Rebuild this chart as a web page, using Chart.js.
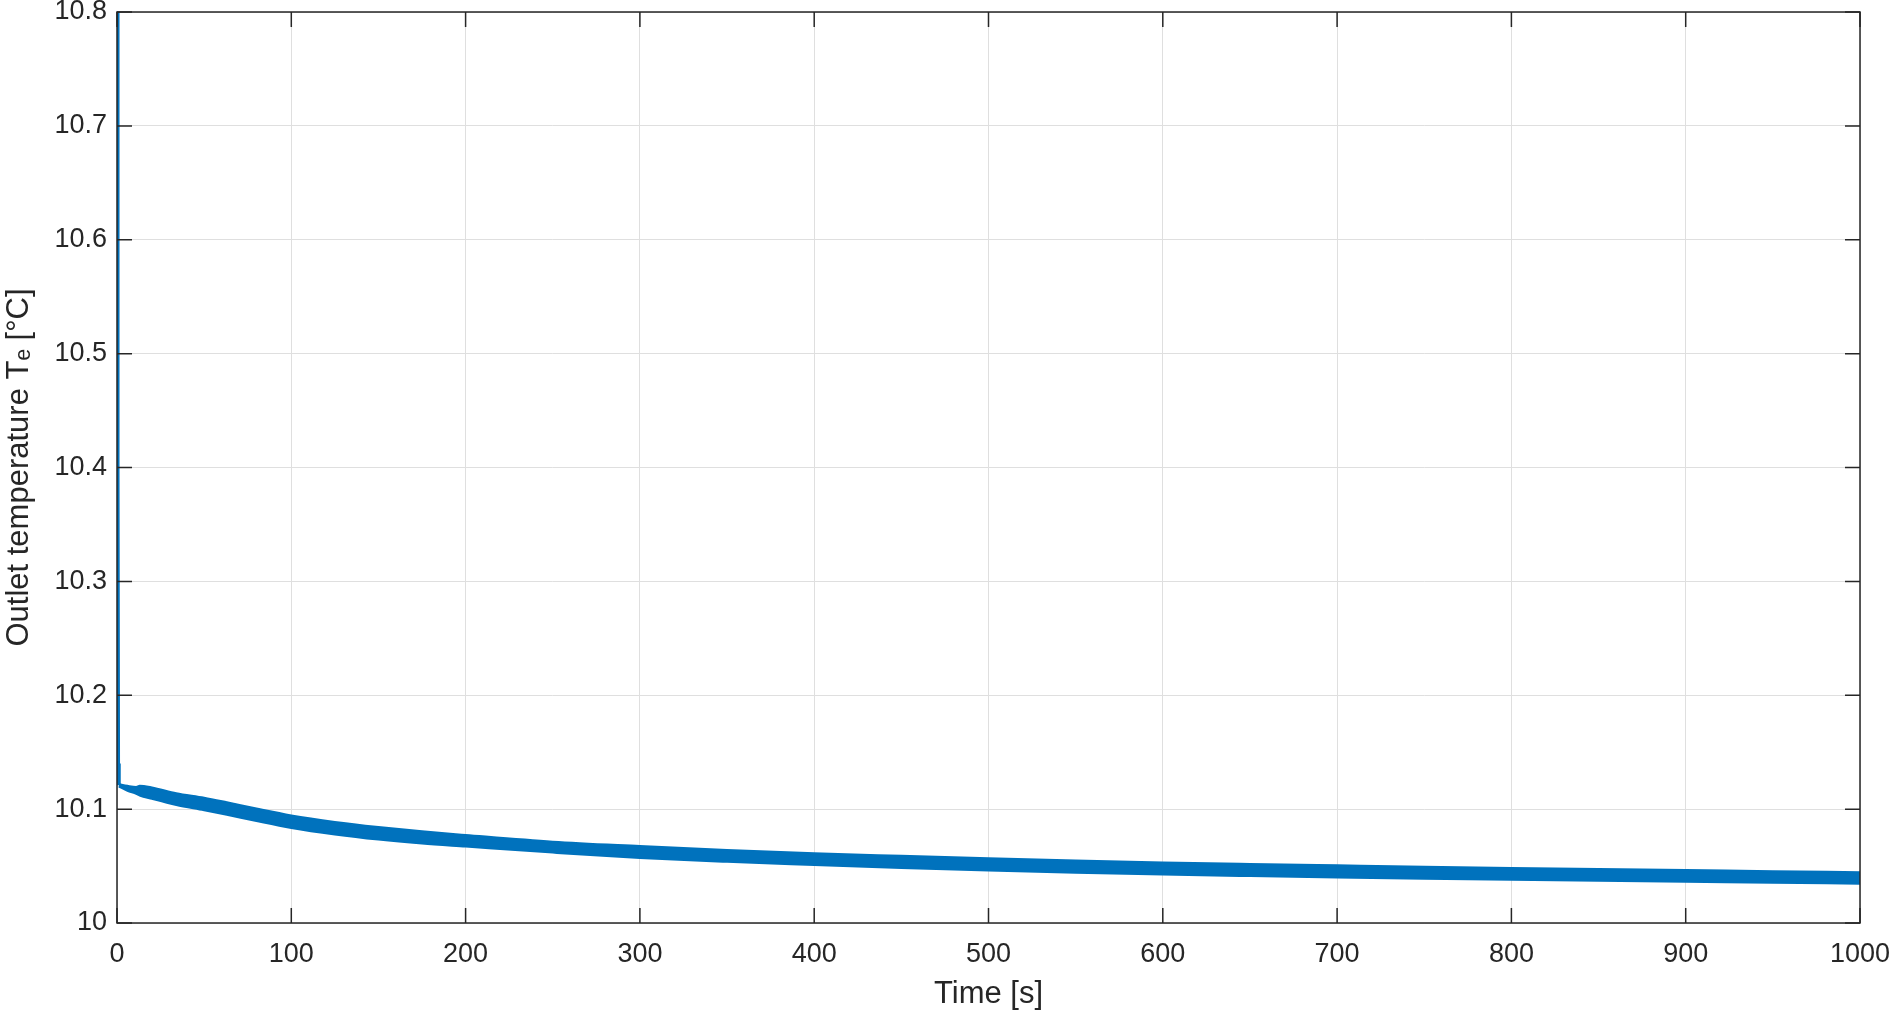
<!DOCTYPE html>
<html>
<head>
<meta charset="utf-8">
<script src="https://cdn.jsdelivr.net/npm/chart.js@4.4.0/dist/chart.umd.min.js"></script>
<style>
  html, body { margin: 0; padding: 0; background: #fff; }
  #wrap { width: 1900px; height: 1019px; }
</style>
</head>
<body>
<div id="wrap"><canvas id="outletChart"></canvas></div>
<script>
// steep drop right after start (first point is above the axis, gets clipped)
const dropTime = [0, 0.3, 0.6, 1];
const dropTemp = [11.0, 10.4, 10.14, 10.121];

// upper / lower envelope of the oscillating band
const bandTime = [1, 6, 11, 13, 20, 34, 50, 63, 80, 100, 125, 150, 175, 200, 250, 300, 350, 400, 450, 500, 550, 600, 650, 700, 750, 800, 850, 900, 950, 1000];
const upperTemp = [10.122, 10.1205, 10.1195, 10.1205, 10.119, 10.114, 10.110, 10.106, 10.1005, 10.0945, 10.0888, 10.0843, 10.0805, 10.0773, 10.0714, 10.0676, 10.0642, 10.0613, 10.059, 10.0568, 10.0548, 10.0532, 10.0519, 10.0507, 10.0495, 10.0484, 10.0474, 10.0465, 10.0455, 10.0446];
const lowerTemp = [10.120, 10.116, 10.1135, 10.112, 10.109, 10.1036, 10.099, 10.095, 10.0895, 10.0835, 10.0778, 10.0733, 10.0698, 10.0671, 10.0618, 10.0571, 10.0537, 10.0509, 10.0482, 10.0460, 10.0441, 10.0425, 10.0412, 10.0400, 10.0389, 10.0379, 10.0370, 10.0362, 10.0353, 10.0345];

const xTicks = [0, 100, 200, 300, 400, 500, 600, 700, 800, 900, 1000];
const yTicks = [10, 10.1, 10.2, 10.3, 10.4, 10.5, 10.6, 10.7, 10.8];

const lineBlue = "rgb(0, 114, 189)";
const axisGray = "#262626";
const fontFamily = "'Liberation Sans', Arial, Helvetica, sans-serif";

function pts(xs, ys) {
    return xs.map((t, i) => ({ x: t, y: ys[i] }));
}

// box round the plot + inward tick marks on all four sides
const matlabAxes = {
    id: "matlabAxes",
    afterDatasetsDraw(chart) {
        const { ctx, chartArea: a, scales } = chart;
        const tickLen = 15;
        ctx.save();
        ctx.strokeStyle = axisGray;
        ctx.lineWidth = 1.5;
        ctx.strokeRect(a.left, a.top, a.right - a.left, a.bottom - a.top);
        ctx.beginPath();
        scales.x.ticks.forEach((t) => {
            const px = scales.x.getPixelForValue(t.value);
            ctx.moveTo(px, a.bottom);
            ctx.lineTo(px, a.bottom - tickLen);
            ctx.moveTo(px, a.top);
            ctx.lineTo(px, a.top + tickLen);
        });
        scales.y.ticks.forEach((t) => {
            const py = scales.y.getPixelForValue(t.value);
            ctx.moveTo(a.left, py);
            ctx.lineTo(a.left + tickLen, py);
            ctx.moveTo(a.right, py);
            ctx.lineTo(a.right - tickLen, py);
        });
        ctx.stroke();
        ctx.restore();
    },
};

new Chart(document.getElementById("outletChart"), {
    type: "line",
    data: {
        datasets: [
            {
                label: "drop",
                data: pts(dropTime, dropTemp),
                borderColor: lineBlue,
                borderWidth: 4,
                pointRadius: 0,
                fill: false,
            },
            {
                label: "upper",
                data: pts(bandTime, upperTemp),
                borderColor: lineBlue,
                backgroundColor: lineBlue,
                borderWidth: 2,
                pointRadius: 0,
                cubicInterpolationMode: "monotone",
                fill: "+1",
            },
            {
                label: "lower",
                data: pts(bandTime, lowerTemp),
                borderColor: lineBlue,
                borderWidth: 2,
                pointRadius: 0,
                cubicInterpolationMode: "monotone",
                fill: false,
            },
        ],
    },
    options: {
        responsive: true,
        maintainAspectRatio: false,
        animation: false,
        layout: { padding: { top: 12, right: 40, left: 0, bottom: 0 } },
        plugins: {
            legend: { display: false },
            tooltip: { enabled: false },
        },
        scales: {
            x: {
                type: "linear",
                min: 0,
                max: 1000,
                afterBuildTicks: (scale) => {
                    scale.ticks = xTicks.map((v) => ({ value: v }));
                },
                afterFit: (scale) => {
                    scale.height = 96;
                    scale.paddingLeft = 0;
                    scale.paddingRight = 0;
                },
                grid: { color: "#dfdfdf", lineWidth: 1, drawTicks: false },
                border: { display: false },
                ticks: {
                    color: axisGray,
                    padding: 15,
                    maxRotation: 0,
                    font: { family: fontFamily, size: 27 },
                    callback: (v) => String(v),
                },
                title: {
                    display: true,
                    text: "Time [s]",
                    color: axisGray,
                    font: { family: fontFamily, size: 31 },
                    padding: { top: 0, bottom: 6 },
                },
            },
            y: {
                min: 10,
                max: 10.8,
                afterBuildTicks: (scale) => {
                    scale.ticks = yTicks.map((v) => ({ value: v }));
                },
                afterFit: (scale) => {
                    scale.width = 117;
                    scale.paddingTop = 0;
                    scale.paddingBottom = 0;
                },
                grid: { color: "#dfdfdf", lineWidth: 1, drawTicks: false },
                border: { display: false },
                ticks: {
                    color: axisGray,
                    padding: 10,
                    font: { family: fontFamily, size: 27 },
                    callback: (v) => String(Number(v.toFixed(1))),
                },
                title: {
                    display: true,
                    text: "Outlet temperature Tₑ [°C]",
                    color: axisGray,
                    font: { family: fontFamily, size: 31 },
                    padding: { top: 1, bottom: 0 },
                },
            },
        },
    },
    plugins: [matlabAxes],
});
</script>
</body>
</html>
